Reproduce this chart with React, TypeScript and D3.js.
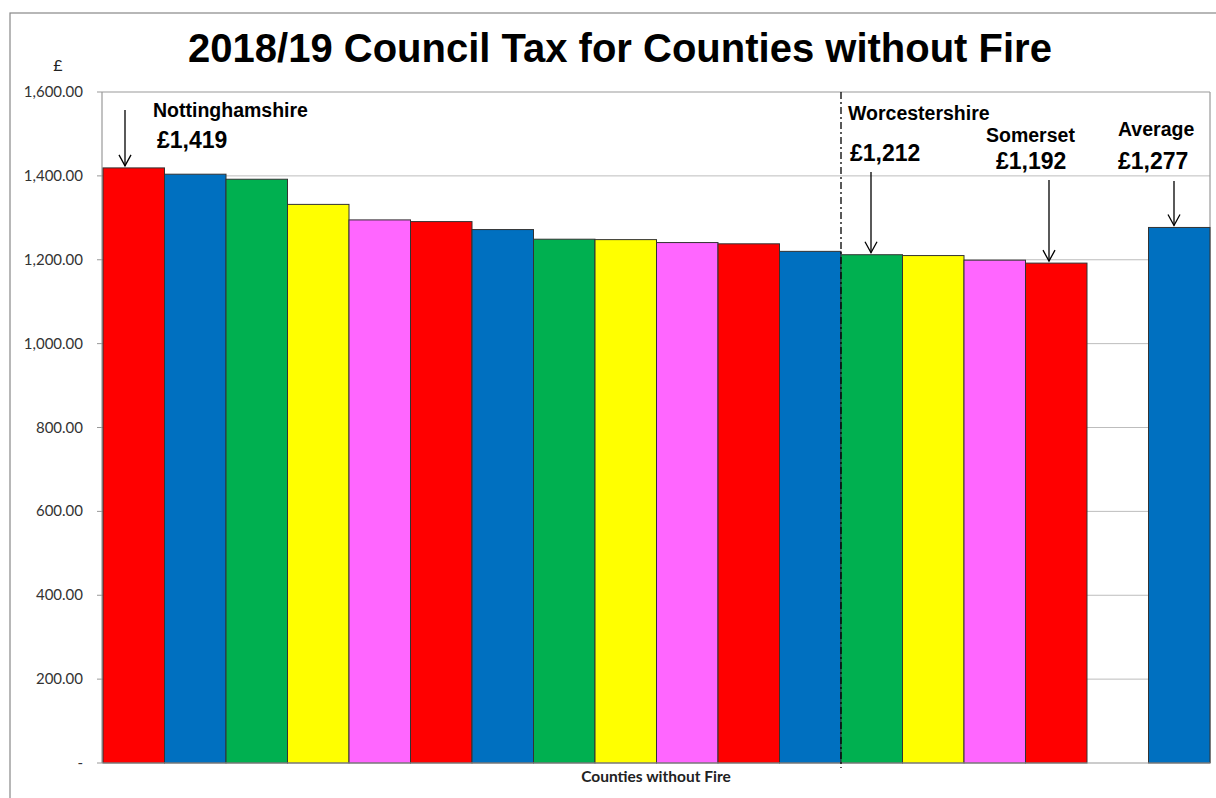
import React from "react";
import * as d3 from "d3";

const categories = [
  "Nottinghamshire", "C2", "C3", "C4", "C5", "C6", "C7", "C8", "C9", "C10", "C11", "C12",
  "Worcestershire", "C14", "C15", "Somerset", "", "Average",
];
const values: (number | null)[] = [
  1419, 1404, 1392, 1332, 1295, 1291, 1272, 1249, 1248, 1241, 1238, 1220,
  1212, 1210, 1199, 1192, null, 1277,
];
const colors = [
  "#FF0000", "#0070C0", "#00B050", "#FFFF00", "#FF66FF", "#FF0000", "#0070C0", "#00B050",
  "#FFFF00", "#FF66FF", "#FF0000", "#0070C0", "#00B050", "#FFFF00", "#FF66FF", "#FF0000",
  "#FFFFFF", "#0070C0",
];
const yTicks = [0, 200, 400, 600, 800, 1000, 1200, 1400, 1600];

const annotations = [
  { idx: 0, name: "Nottinghamshire", value: "£1,419", nameX: 153, nameY: 117, valX: 157, valY: 148, ax: 125, ay0: 110 },
  { idx: 12, name: "Worcestershire", value: "£1,212", nameX: 848, nameY: 120, valX: 850, valY: 161, ax: 871, ay0: 172 },
  { idx: 15, name: "Somerset", value: "£1,192", nameX: 986, nameY: 142, valX: 996, valY: 169, ax: 1049, ay0: 180 },
  { idx: 17, name: "Average", value: "£1,277", nameX: 1118, nameY: 135.5, valX: 1118, valY: 168.5, ax: 1174, ay0: 181 },
];

export default function App() {
  const W = 1216, H = 798;
  const left = 102, right = 1210, top = 92, bottom = 763;
  const x = d3.scaleBand<number>().domain(d3.range(categories.length)).range([left + 1, right]).padding(0);
  const y = d3.scaleLinear().domain([0, 1600]).range([bottom, top]);
  const fmt = (v: number) => (v === 0 ? "-" : d3.format(",.2f")(v));
  const dividerX = x(12)!;
  const arial = "'Liberation Sans', Arial, sans-serif";
  const cal = "Lato, 'Open Sans', sans-serif";

  return (
    <svg width={W} height={H} style={{ position: "absolute", left: 0, top: 0, background: "#fff" }}>
      <rect x={10} y={13} width={W + 20} height={H} fill="none" stroke="#888" strokeWidth={1.2} />
      <text x={620} y={62} textAnchor="middle" fontFamily={arial} fontWeight="bold" fontSize={40} fill="#000">
        2018/19 Council Tax for Counties without Fire
      </text>
      <text x={58} y={71} textAnchor="middle" fontFamily={cal} fontSize={16} fill="#222">£</text>
      {yTicks.map((t) => (
        <g key={t}>
          {t > 0 && t < 1600 && (
            <line x1={left} x2={right} y1={y(t)} y2={y(t)} stroke="#BDBDBD" strokeWidth={1} />
          )}
          <line x1={left - 5} x2={left} y1={y(t)} y2={y(t)} stroke="#999" />
          <text x={83} y={y(t) + 5} textAnchor="end" fontFamily={cal} fontSize={15} fill="#333">
            {fmt(t)}
          </text>
        </g>
      ))}
      <line x1={left} x2={right} y1={top} y2={top} stroke="#999" strokeWidth={1.2} />
      <line x1={right} x2={right} y1={top} y2={bottom} stroke="#999" strokeWidth={1.2} />
      <line x1={left} x2={left} y1={top} y2={bottom} stroke="#999" strokeWidth={1.2} />
      {values.map((v, i) =>
        v == null ? null : (
          <rect key={i} x={x(i)!} y={y(v)} width={x.bandwidth()} height={bottom - y(v)} fill={colors[i]} stroke="#333" strokeWidth={1} />
        )
      )}
      <line x1={left} x2={right} y1={bottom} y2={bottom} stroke="#999" strokeWidth={1.2} />
      <line x1={dividerX} x2={dividerX} y1={top} y2={bottom + 5} stroke="#000" strokeWidth={1.3} strokeDasharray="7 3 2 3" />
      {annotations.map((a) => {
        const endY = y(values[a.idx]!) - 2;
        return (
          <g key={a.name}>
            <text x={a.nameX} y={a.nameY} fontFamily={arial} fontWeight="bold" fontSize={19.5} fill="#000">{a.name}</text>
            <text x={a.valX} y={a.valY} fontFamily={arial} fontWeight="bold" fontSize={23} fill="#000">{a.value}</text>
            <line x1={a.ax} x2={a.ax} y1={a.ay0} y2={endY} stroke="#000" strokeWidth={1.3} />
            <path d={`M${a.ax - 6},${endY - 11} L${a.ax},${endY} L${a.ax + 6},${endY - 11}`} fill="none" stroke="#000" strokeWidth={1.3} />
          </g>
        );
      })}
      <text x={(left + right) / 2} y={782} textAnchor="middle" fontFamily={cal} fontWeight="bold" fontSize={15.5} fill="#222">
        Counties without Fire
      </text>
    </svg>
  );
}
